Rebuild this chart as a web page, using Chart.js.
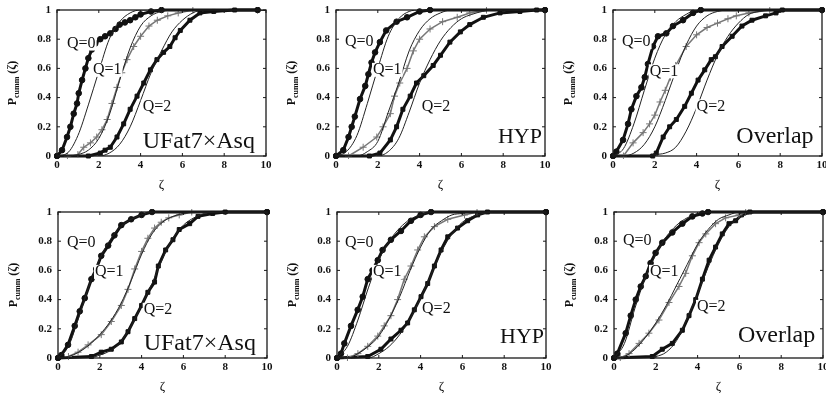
<!DOCTYPE html>
<html>
<head>
<meta charset="utf-8">
<script src="https://cdn.jsdelivr.net/npm/chart.js@4.4.1/dist/chart.umd.min.js"></script>
<style>
  html, body { margin: 0; padding: 0; background: #fff; overflow: hidden; }
  body { width: 826px; height: 396px; position: relative; }
  canvas { position: absolute; }
</style>
</head>
<body>
<canvas id="p1" width="265" height="190"></canvas>
<canvas id="p2" width="265" height="190"></canvas>
<canvas id="p3" width="265" height="190"></canvas>
<canvas id="p4" width="265" height="190"></canvas>
<canvas id="p5" width="265" height="190"></canvas>
<canvas id="p6" width="265" height="190"></canvas>
<script>
// grid of zeta values used by the fitted curves
const zeta = [0, 0.5, 1, 1.5, 2, 2.5, 3, 3.5, 4, 4.5, 5, 5.5, 6, 6.5, 7, 7.5, 8, 8.5, 9, 9.5, 10];
const xTicks = [0, 2, 4, 6, 8, 10];
const yTicks = [0, 0.2, 0.4, 0.6, 0.8, 1];

// top row, UFat7xAsq
const ufatTopFit0 = [0, 0.02, 0.14, 0.35, 0.58, 0.8, 0.92, 0.98, 1, 1, 1, 1, 1, 1, 1, 1, 1, 1, 1, 1, 1];
const ufatTopFit1 = [0, 0, 0.01, 0.04, 0.12, 0.28, 0.52, 0.74, 0.89, 0.96, 0.99, 1, 1, 1, 1, 1, 1, 1, 1, 1, 1];
const ufatTopFit2 = [0, 0, 0, 0, 0, 0.02, 0.08, 0.2, 0.38, 0.57, 0.72, 0.85, 0.93, 0.98, 1, 1, 1, 1, 1, 1, 1];
const ufatTopQ0 = [[0, 0], [0.24, 0.04], [0.48, 0.13], [0.64, 0.2], [0.8, 0.29], [0.96, 0.36], [1.04, 0.43], [1.2, 0.52], [1.36, 0.6], [1.5, 0.67], [1.67, 0.73], [1.83, 0.77], [2.07, 0.8], [2.3, 0.82], [2.55, 0.84], [2.8, 0.87], [3, 0.9], [3.25, 0.915], [3.5, 0.93], [3.75, 0.95], [4, 0.97], [4.5, 0.99], [5, 1], [9.6, 1]];
const ufatTopQ1 = [[0.5, 0], [1, 0.01], [1.28, 0.06], [1.6, 0.09], [1.9, 0.13], [2.15, 0.18], [2.4, 0.25], [2.63, 0.36], [2.87, 0.47], [3.1, 0.57], [3.35, 0.66], [3.67, 0.75], [4, 0.82], [4.4, 0.89], [4.8, 0.93], [5.3, 0.96], [5.8, 0.98], [6.5, 1], [9.6, 1]];
const ufatTopQ2 = [[0, 0], [1.5, 0], [2.07, 0.02], [2.3, 0.04], [2.55, 0.06], [2.87, 0.13], [3.19, 0.22], [3.5, 0.32], [3.83, 0.41], [4.15, 0.5], [4.47, 0.59], [4.78, 0.66], [5.1, 0.71], [5.4, 0.75], [5.65, 0.81], [5.9, 0.86], [6.36, 0.93], [6.84, 0.98], [7.5, 0.99], [8.5, 1], [9.6, 1]];

// top row, HYP
const hypTopFit0 = [0, 0.03, 0.14, 0.36, 0.6, 0.82, 0.94, 0.99, 1, 1, 1, 1, 1, 1, 1, 1, 1, 1, 1, 1, 1];
const hypTopFit1 = [0, 0, 0, 0.03, 0.1, 0.3, 0.5, 0.72, 0.86, 0.94, 0.98, 1, 1, 1, 1, 1, 1, 1, 1, 1, 1];
const hypTopFit2 = [0, 0, 0, 0, 0, 0.03, 0.12, 0.3, 0.5, 0.66, 0.79, 0.88, 0.94, 0.97, 0.99, 1, 1, 1, 1, 1, 1];
const hypTopQ0 = [[0, 0], [0.35, 0.04], [0.6, 0.13], [0.75, 0.2], [0.9, 0.27], [1.15, 0.39], [1.4, 0.48], [1.55, 0.56], [1.7, 0.64], [1.87, 0.71], [2.1, 0.78], [2.4, 0.86], [2.9, 0.92], [3.4, 0.95], [4, 0.99], [4.5, 1], [10, 1]];
const hypTopQ1 = [[0.6, 0], [1.3, 0.06], [1.95, 0.13], [2.25, 0.2], [2.6, 0.29], [2.8, 0.41], [3.05, 0.5], [3.4, 0.6], [3.7, 0.72], [4, 0.8], [4.5, 0.87], [5.1, 0.92], [5.8, 0.95], [6.4, 0.98], [7.2, 1], [10, 1]];
const hypTopQ2 = [[0, 0], [1.6, 0], [2.1, 0.02], [2.6, 0.11], [2.9, 0.2], [3.2, 0.32], [3.55, 0.41], [3.85, 0.5], [4.2, 0.55], [4.65, 0.62], [5, 0.69], [5.45, 0.78], [5.95, 0.85], [6.4, 0.9], [7.05, 0.95], [7.85, 0.98], [8.8, 0.99], [9.6, 1], [10, 1]];

// top row, Overlap
const overTopFit0 = [0, 0.05, 0.22, 0.45, 0.67, 0.83, 0.92, 0.97, 1, 1, 1, 1, 1, 1, 1, 1, 1, 1, 1, 1, 1];
const overTopFit1 = [0, 0, 0.02, 0.08, 0.2, 0.38, 0.58, 0.76, 0.89, 0.96, 0.99, 1, 1, 1, 1, 1, 1, 1, 1, 1, 1];
const overTopFit2 = [0, 0, 0, 0, 0.01, 0.02, 0.06, 0.17, 0.33, 0.52, 0.69, 0.82, 0.91, 0.97, 0.99, 1, 1, 1, 1, 1, 1];
const overTopQ0 = [[0, 0], [0.16, 0.03], [0.48, 0.11], [0.72, 0.22], [0.88, 0.32], [1.12, 0.41], [1.36, 0.47], [1.52, 0.54], [1.67, 0.63], [1.91, 0.75], [2.15, 0.82], [2.55, 0.84], [2.87, 0.89], [3.35, 0.93], [3.83, 0.98], [4.2, 1], [10, 1]];
const overTopQ1 = [[0.5, 0], [0.96, 0.09], [1.44, 0.16], [1.75, 0.22], [2, 0.28], [2.25, 0.37], [2.5, 0.45], [2.75, 0.54], [3, 0.62], [3.5, 0.75], [4, 0.83], [4.5, 0.88], [5, 0.91], [5.5, 0.94], [5.9, 0.96], [6.5, 0.98], [7.5, 1], [10, 1]];
const overTopQ2 = [[0, 0], [1.9, 0], [2.07, 0.02], [2.4, 0.13], [2.71, 0.2], [3.03, 0.25], [3.43, 0.34], [3.75, 0.43], [4.07, 0.52], [4.39, 0.59], [4.7, 0.66], [4.9, 0.68], [5.22, 0.75], [5.7, 0.82], [6.17, 0.89], [6.65, 0.93], [7.3, 0.96], [7.8, 0.98], [8.1, 1], [10, 1]];

// bottom row, UFat7xAsq
const ufatBotFit0 = [0, 0.08, 0.28, 0.5, 0.68, 0.81, 0.9, 0.95, 0.98, 1, 1, 1, 1, 1, 1, 1, 1, 1, 1, 1, 1];
const ufatBotFit1 = [0, 0.01, 0.04, 0.09, 0.16, 0.25, 0.37, 0.53, 0.71, 0.85, 0.93, 0.97, 0.99, 1, 1, 1, 1, 1, 1, 1, 1];
const ufatBotFit2 = [0, 0, 0, 0, 0.02, 0.05, 0.11, 0.22, 0.36, 0.51, 0.68, 0.82, 0.91, 0.96, 0.99, 1, 1, 1, 1, 1, 1];
const ufatBotQ0 = [[0, 0], [0.16, 0.02], [0.48, 0.09], [0.8, 0.22], [1.04, 0.32], [1.28, 0.41], [1.6, 0.54], [1.83, 0.61], [2.07, 0.7], [2.4, 0.77], [2.7, 0.84], [3.03, 0.91], [3.5, 0.95], [4, 0.98], [4.5, 1], [10, 1]];
const ufatBotQ1 = [[0.5, 0.01], [0.96, 0.04], [1.44, 0.09], [2.07, 0.16], [2.55, 0.25], [3.03, 0.36], [3.35, 0.47], [3.67, 0.61], [4, 0.73], [4.3, 0.82], [4.62, 0.89], [4.94, 0.93], [5.3, 0.96], [5.8, 0.98], [6.4, 1], [10, 1]];
const ufatBotQ2 = [[0, 0], [1.6, 0.01], [2.07, 0.04], [2.55, 0.06], [3.03, 0.11], [3.35, 0.18], [3.67, 0.27], [4, 0.36], [4.3, 0.45], [4.62, 0.52], [4.8, 0.63], [5.15, 0.74], [5.5, 0.81], [5.8, 0.88], [6.3, 0.92], [6.7, 0.97], [7.4, 0.99], [8, 1], [10, 1]];

// bottom row, HYP
const hypBotFit0 = [0, 0.08, 0.26, 0.48, 0.67, 0.8, 0.89, 0.95, 0.98, 1, 1, 1, 1, 1, 1, 1, 1, 1, 1, 1, 1];
const hypBotFit1 = [0, 0, 0.03, 0.08, 0.15, 0.27, 0.42, 0.6, 0.76, 0.88, 0.94, 0.98, 0.99, 1, 1, 1, 1, 1, 1, 1, 1];
const hypBotFit2 = [0, 0, 0, 0, 0.03, 0.08, 0.16, 0.27, 0.41, 0.57, 0.73, 0.85, 0.93, 0.97, 0.99, 1, 1, 1, 1, 1, 1];
const hypBotQ0 = [[0, 0], [0.19, 0.03], [0.35, 0.1], [0.67, 0.22], [0.99, 0.33], [1.23, 0.42], [1.47, 0.54], [1.7, 0.6], [1.95, 0.67], [2.18, 0.74], [2.58, 0.81], [3.06, 0.87], [3.54, 0.94], [4, 0.98], [4.5, 1], [10, 1]];
const hypBotQ1 = [[0.5, 0], [1, 0.03], [1.47, 0.08], [1.95, 0.15], [2.26, 0.22], [2.58, 0.29], [2.9, 0.4], [3.22, 0.54], [3.54, 0.63], [3.86, 0.74], [4.18, 0.83], [4.66, 0.9], [5.3, 0.95], [6.1, 0.98], [6.7, 1], [10, 1]];
const hypBotQ2 = [[0, 0], [1.47, 0.01], [2.1, 0.06], [2.58, 0.13], [3.06, 0.19], [3.38, 0.24], [3.7, 0.33], [4.02, 0.42], [4.34, 0.51], [4.66, 0.63], [4.98, 0.74], [5.3, 0.83], [5.77, 0.89], [6.25, 0.94], [6.73, 0.98], [7.2, 1], [10, 1]];

// bottom row, Overlap
const overBotFit0 = [0, 0.1, 0.34, 0.55, 0.71, 0.83, 0.91, 0.96, 0.99, 1, 1, 1, 1, 1, 1, 1, 1, 1, 1, 1, 1];
const overBotFit1 = [0, 0.01, 0.06, 0.14, 0.24, 0.36, 0.5, 0.64, 0.78, 0.88, 0.95, 0.98, 1, 1, 1, 1, 1, 1, 1, 1, 1];
const overBotFit2 = [0, 0, 0, 0, 0.01, 0.04, 0.12, 0.27, 0.44, 0.62, 0.78, 0.9, 0.96, 0.99, 1, 1, 1, 1, 1, 1, 1];
const overBotQ0 = [[0, 0], [0.16, 0.03], [0.56, 0.17], [0.8, 0.29], [1.04, 0.4], [1.28, 0.49], [1.52, 0.56], [1.75, 0.65], [1.99, 0.72], [2.31, 0.79], [2.79, 0.86], [3.27, 0.92], [3.75, 0.97], [4.23, 0.99], [4.5, 1], [10, 1]];
const overBotQ1 = [[0.3, 0], [0.72, 0.03], [1.2, 0.1], [1.67, 0.17], [2.15, 0.26], [2.63, 0.38], [3.11, 0.49], [3.43, 0.58], [3.75, 0.7], [4.07, 0.79], [4.39, 0.85], [4.86, 0.92], [5.34, 0.96], [5.98, 0.98], [6.3, 1], [10, 1]];
const overBotQ2 = [[0, 0], [1.83, 0.01], [2.31, 0.06], [2.79, 0.1], [3.27, 0.19], [3.59, 0.29], [3.91, 0.4], [4.23, 0.54], [4.55, 0.67], [4.86, 0.76], [5.18, 0.85], [5.5, 0.92], [5.82, 0.94], [6.1, 0.98], [6.5, 1], [10, 1]];

const SERIF = "'Liberation Serif', 'DejaVu Serif', serif";

const panels = [
  { id: "p1", left: 57, top: 10, name: "UFat7×Asq", nameAt: [4.1, 0.1], nameSize: 24,
    fits: [ufatTopFit0, ufatTopFit1, ufatTopFit2], data: [ufatTopQ0, ufatTopQ1, ufatTopQ2],
    qAt: [[0.48, 0.77], [1.72, 0.59], [4.1, 0.34]] },
  { id: "p2", left: 336, top: 10, name: "HYP", nameAt: [7.75, 0.13], nameSize: 22,
    fits: [hypTopFit0, hypTopFit1, hypTopFit2], data: [hypTopQ0, hypTopQ1, hypTopQ2],
    qAt: [[0.43, 0.78], [1.77, 0.59], [4.1, 0.34]] },
  { id: "p3", left: 613, top: 10, name: "Overlap", nameAt: [5.9, 0.13], nameSize: 24,
    fits: [overTopFit0, overTopFit1, overTopFit2], data: [overTopQ0, overTopQ1, overTopQ2],
    qAt: [[0.43, 0.78], [1.76, 0.58], [4.0, 0.34]] },
  { id: "p4", left: 58, top: 212, name: "UFat7×Asq", nameAt: [4.1, 0.1], nameSize: 24,
    fits: [ufatBotFit0, ufatBotFit1, ufatBotFit2], data: [ufatBotQ0, ufatBotQ1, ufatBotQ2],
    qAt: [[0.43, 0.79], [1.77, 0.59], [4.1, 0.33]] },
  { id: "p5", left: 337, top: 212, name: "HYP", nameAt: [7.8, 0.14], nameSize: 22,
    fits: [hypBotFit0, hypBotFit1, hypBotFit2], data: [hypBotQ0, hypBotQ1, hypBotQ2],
    qAt: [[0.38, 0.79], [1.72, 0.59], [4.07, 0.34]] },
  { id: "p6", left: 614, top: 212, name: "Overlap", nameAt: [5.93, 0.15], nameSize: 24,
    fits: [overBotFit0, overBotFit1, overBotFit2], data: [overBotQ0, overBotQ1, overBotQ2],
    qAt: [[0.43, 0.8], [1.72, 0.59], [3.97, 0.35]] },
];

// frame, inward ticks, y title with subscript, and the text labels
const decorPlugin = {
  id: "decor",
  afterDatasetsDraw(chart, args, opts) {
    const { ctx, chartArea: a, scales } = chart;
    const xs = scales.x, ys = scales.y;
    ctx.save();
    ctx.strokeStyle = "#1a1a1a";
    ctx.lineWidth = 1.3;
    ctx.strokeRect(a.left, a.top, a.right - a.left, a.bottom - a.top);

    ctx.lineWidth = 1;
    ctx.beginPath();
    xTicks.forEach((v) => {
      const px = xs.getPixelForValue(v);
      ctx.moveTo(px, a.bottom); ctx.lineTo(px, a.bottom - 3);
      ctx.moveTo(px, a.top); ctx.lineTo(px, a.top + 3);
    });
    yTicks.forEach((v) => {
      const py = ys.getPixelForValue(v);
      ctx.moveTo(a.left, py); ctx.lineTo(a.left + 3, py);
      ctx.moveTo(a.right, py); ctx.lineTo(a.right - 3, py);
    });
    ctx.stroke();

    // labels Q=0, Q=1, Q=2 with white backing
    ctx.font = "16px " + SERIF;
    ctx.textBaseline = "middle";
    ctx.textAlign = "left";
    opts.qAt.forEach((p, i) => {
      const txt = "Q=" + i;
      const x = xs.getPixelForValue(p[0]);
      const y = ys.getPixelForValue(p[1]);
      const w = ctx.measureText(txt).width;
      ctx.fillStyle = "#fff";
      ctx.fillRect(x - 1, y - 7, w + 2, 14);
      ctx.fillStyle = "#111";
      ctx.fillText(txt, x, y);
    });

    ctx.font = opts.nameSize + "px " + SERIF;
    ctx.fillStyle = "#111";
    ctx.fillText(opts.name, xs.getPixelForValue(opts.nameAt[0]), ys.getPixelForValue(opts.nameAt[1]));

    // y axis title: P_cumm(ζ)
    ctx.translate(a.left - 44, (a.top + a.bottom) / 2);
    ctx.rotate(-Math.PI / 2);
    ctx.textBaseline = "middle";
    const big = "bold 12px " + SERIF, small = "bold 8px " + SERIF;
    ctx.font = big; const wP = ctx.measureText("P").width; const wR = ctx.measureText("(ζ)").width;
    ctx.font = small; const wS = ctx.measureText("cumm").width;
    let x0 = -(wP + wS + wR + 3) / 2;
    ctx.font = big; ctx.fillText("P", x0, 0); x0 += wP;
    ctx.font = small; ctx.fillText("cumm", x0, 4); x0 += wS + 3;
    ctx.font = big; ctx.fillText("(ζ)", x0, 0);
    ctx.restore();
  },
};

function makeChart(p) {
  const el = document.getElementById(p.id);
  el.style.left = (p.left - 50) + "px";
  el.style.top = (p.top - 6) + "px";

  const fitSets = p.fits.map((f) => ({
    data: zeta.map((z, i) => ({ x: z, y: f[i] })),
    borderColor: "#222",
    borderWidth: 1,
    pointRadius: 0,
    showLine: true,
    cubicInterpolationMode: "monotone",
    order: 0,
  }));

  const pointStyles = ["circle", "cross", "rect"];
  const colors = ["#111", "#777", "#111"];
  const dataSets = p.data.map((d, i) => ({
    data: d.map((pt) => ({ x: pt[0], y: pt[1] })),
    showLine: true,
    borderColor: colors[i],
    borderWidth: i === 1 ? 1.5 : 3,
    pointStyle: pointStyles[i],
    pointRadius: i === 1 ? 3.5 : 2.8,
    pointBorderWidth: 1,
    pointBorderColor: colors[i],
    pointBackgroundColor: colors[i],
    clip: 3,
    order: 1,
  }));

  new Chart(el, {
    type: "scatter",
    data: { datasets: dataSets.concat(fitSets) },
    options: {
      responsive: false,
      animation: false,
      devicePixelRatio: 1,
      layout: { padding: { top: 6, right: 6, left: 0, bottom: 0 } },
      plugins: {
        legend: { display: false },
        tooltip: { enabled: false },
        decor: { qAt: p.qAt, name: p.name, nameAt: p.nameAt, nameSize: p.nameSize },
      },
      scales: {
        x: {
          type: "linear", min: 0, max: 10,
          afterBuildTicks: (s) => { s.ticks = xTicks.map((v) => ({ value: v })); },
          afterFit: (s) => { s.height = 38; s.paddingLeft = 0; s.paddingRight = 0; },
          grid: { display: false, drawTicks: false, tickLength: 0 },
          border: { display: false },
          ticks: { color: "#111", padding: 3, font: { family: SERIF, size: 11, weight: "bold" },
            callback: (v) => String(v) },
          title: { display: true, text: "ζ", color: "#111", padding: { top: 2, bottom: 2 }, font: { family: SERIF, size: 13 } },
        },
        y: {
          type: "linear", min: 0, max: 1,
          afterBuildTicks: (s) => { s.ticks = yTicks.map((v) => ({ value: v })); },
          afterFit: (s) => { s.width = 50; s.paddingTop = 0; s.paddingBottom = 0; },
          grid: { display: false, drawTicks: false, tickLength: 0 },
          border: { display: false },
          ticks: { color: "#111", padding: 6, font: { family: SERIF, size: 11, weight: "bold" },
            callback: (v) => String(Number(v.toFixed(1))) },
        },
      },
    },
    plugins: [decorPlugin],
  });
}

panels.forEach(makeChart);
</script>
</body>
</html>
